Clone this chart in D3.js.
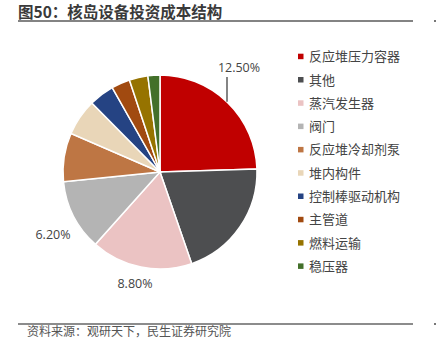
<!DOCTYPE html>
<html><head><meta charset="utf-8">
<script src="https://cdn.jsdelivr.net/npm/d3@7"></script>
<style>body{margin:0;background:#fff}svg{display:block}</style>
</head><body>
<svg id="c" width="436" height="347"></svg>
<script>
const categories = ["反应堆压力容器","其他","蒸汽发生器","阀门","反应堆冷却剂泵","堆内构件","控制棒驱动机构","主管道","燃料运输","稳压器"];
const values = [24.5, 20.2, 16.9, 11.8, 8.1, 6.1, 4.2, 3.1, 3.1, 2.0];
const colors = ["#C00000","#4D4E50","#EBC3C3","#B4B4B4","#BE7644","#E9D6B8","#254383","#A14A10","#967300","#43702A"];
const labelTexts = ["12.50%", null, "8.80%", "6.20%", null, null, null, null, null, null];

const svg = d3.select("#c");
const font = "'Noto Sans CJK SC','Noto Sans',sans-serif";

svg.append("text").attr("x",18).attr("y",18).attr("font-family",font)
  .attr("font-size",15.5).attr("font-weight","bold").attr("fill","#3a3a3a").text("图50：核岛设备投资成本结构");
svg.append("line").attr("x1",18).attr("x2",413).attr("y1",21).attr("y2",21).attr("stroke","#5a5a5a").attr("stroke-width",1.6);
svg.append("rect").attr("x",434).attr("y",20).attr("width",2).attr("height",2).attr("fill","#777");

const cx=160, cy=172, r=97;
const pie = d3.pie().sort(null).value(d=>d)(values);
const arc = d3.arc().innerRadius(0).outerRadius(r);
const g = svg.append("g").attr("transform",`translate(${cx},${cy})`);
g.selectAll("path").data(pie).join("path").attr("d",arc)
  .attr("fill",(d,i)=>colors[i]).attr("stroke","#fff").attr("stroke-width",1.5);

// labels
const lf = "'Open Sans','Noto Sans',sans-serif";
const labelPos = [[239,72],[0,0],[135,288],[53,239]];
labelTexts.forEach((t,i)=>{
  if(!t) return;
  svg.append("text").attr("x",labelPos[i][0]).attr("y",labelPos[i][1]).attr("text-anchor","middle")
    .attr("font-family",lf).attr("font-size",12.5).attr("fill","#444").text(t);
});
// leader line for first label
const lx = 227;
svg.append("line").attr("x1",lx).attr("x2",lx).attr("y1",77)
  .attr("y2",cy - Math.sqrt(r*r-(lx-cx)*(lx-cx))).attr("stroke","#333").attr("stroke-width",1.2);

// legend
const leg = svg.append("g");
categories.forEach((c,i)=>{
  const y = 56.7 + i*23.3;
  leg.append("rect").attr("x",298).attr("y",y-3).attr("width",5.5).attr("height",5.5).attr("fill",colors[i]);
  leg.append("text").attr("x",309).attr("y",y+4.5).attr("font-family",font).attr("font-size",13)
    .attr("fill","#444").text(c);
});

svg.append("line").attr("x1",18).attr("x2",413).attr("y1",324).attr("y2",324).attr("stroke","#666").attr("stroke-width",1.4);
svg.append("rect").attr("x",434).attr("y",323).attr("width",2).attr("height",2).attr("fill","#777");
svg.append("text").attr("x",27).attr("y",336).attr("font-family",font).attr("font-size",12)
  .attr("fill","#555").text("资料来源：观研天下，民生证券研究院");
</script>
</body></html>
